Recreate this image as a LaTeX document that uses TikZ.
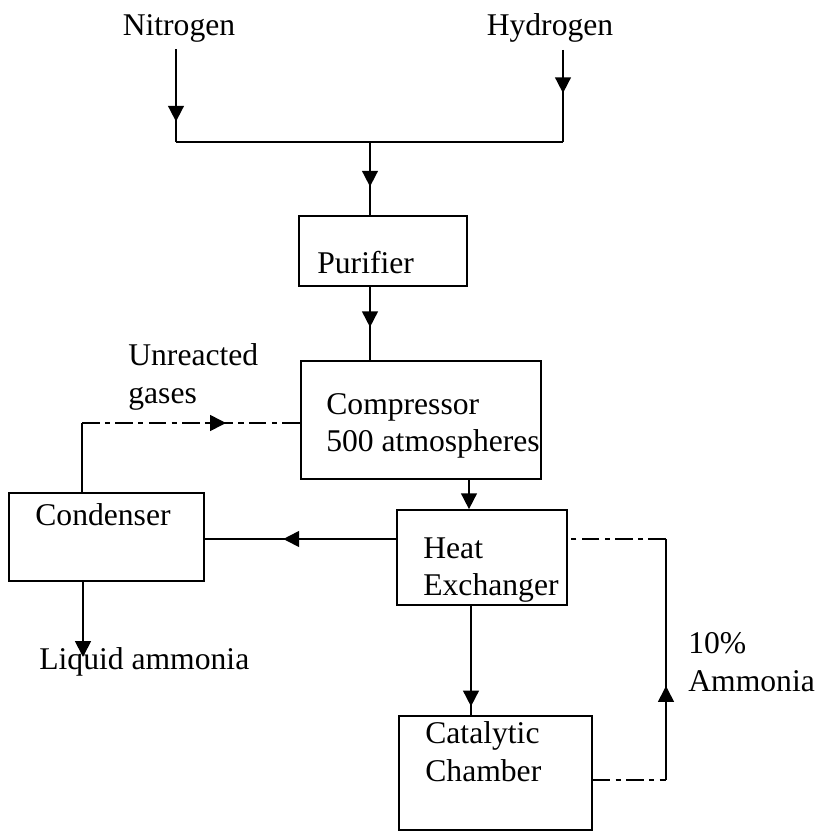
\documentclass[tikz,border=0pt]{standalone}
\usepackage{fontspec}
\setmainfont{Liberation Serif}
\usetikzlibrary{arrows.meta,decorations.markings}
\tikzset{
    unitbox/.style={draw,line width=1pt,inner sep=0pt},
    boxlabel/.style={anchor=west,align=left,inner sep=0pt,font=\fontsize{18}{21.5}\selectfont},
    streamlabel/.style={inner xsep=0pt,inner ysep=4pt,font=\fontsize{18}{21.5}\selectfont},
    flowline/.style={line width=1pt},
    flowdashed/.style={line width=1pt,dash pattern=on 10pt off 3pt on 3pt off 3pt},
    flowarrow/.style={line width=1pt,-{Triangle[length=9pt,width=9pt]}},
    midarrow/.style={decoration={markings,mark=at position #1 with {\arrow{Triangle[length=9pt,width=9pt]}}},postaction={decorate}}
}

\begin{document}
\begin{tikzpicture}[x=0.02cm,y=-0.02cm]

    \useasboundingbox (0,0) rectangle (818,833);

    % feed gases
    \node[streamlabel] (nitrogen) at (179,28) {Nitrogen};
    \node[streamlabel] (hydrogen) at (550,28) {Hydrogen};

    % plant units (boxes)
    \node[unitbox,minimum width=3.36cm,minimum height=1.40cm] (purifier) at (383,251) {};
    \node[unitbox,minimum width=4.80cm,minimum height=2.36cm] (compressor) at (421,420) {};
    \node[unitbox,minimum width=3.90cm,minimum height=1.76cm] (condenser) at (106.5,537) {};
    \node[unitbox,minimum width=3.40cm,minimum height=1.90cm] (heatex) at (482,557.5) {};
    \node[unitbox,minimum width=3.86cm,minimum height=2.28cm] (catalytic) at (495.5,773) {};

    % texts inside the units
    \node[boxlabel] (purifiertext) at (317,263) {Purifier};
    \node[boxlabel] (compressortext) at (326,426) {Compressor\\500 atmospheres};
    \node[boxlabel] (condensertext) at (35,515) {Condenser};
    \node[boxlabel] (heatextext) at (423,570) {Heat\\Exchanger};
    \node[boxlabel] (catalytictext) at (425,752) {Catalytic\\Chamber};

    % stream labels
    \node[boxlabel] (unreacted) at (128,377) {Unreacted\\gases};
    \node[boxlabel] (tenpct) at (688,662) {10\%\\Ammonia};
    \node[boxlabel] (liquid) at (39,662) {Liquid ammonia};

    % helper points for the pipes
    \coordinate (jN) at (176,142);
    \coordinate (jH) at (563,142);
    \coordinate (jM) at (370,142);
    \coordinate (vC) at (469,495);
    \coordinate (vH) at (471,660);
    \coordinate (hC) at (300,539);
    \coordinate (ug) at (82,423);
    \coordinate (rt) at (666,539);
    \coordinate (rb) at (666,780);
    \coordinate (la) at (83,657);

    % nitrogen + hydrogen to purifier
    \draw[flowline,midarrow=0.78] (nitrogen.south -| jN) -- (jN);
    \draw[flowline,midarrow=0.47] (hydrogen.south -| jH) -- (jH);
    \draw[flowline] (jN) -- (jH);
    \draw[flowline,midarrow=0.61] (jM) -- (jM |- purifier.north);

    % purifier -> compressor -> heat exchanger -> catalytic chamber
    \draw[flowline,midarrow=0.55] (jM |- purifier.south) -- (jM |- compressor.north);
    \draw[flowarrow] (vC |- compressor.south) -- (vC |- heatex.north);
    \draw[flowline,midarrow=0.92] (vH |- heatex.south) -- (vH |- catalytic.north);

    % heat exchanger -> condenser
    \draw[flowline,midarrow=0.59] (heatex.west |- hC) -- (condenser.east |- hC);

    % unreacted gases back to compressor
    \draw[flowline] (condenser.north -| ug) -- (ug);
    \draw[flowdashed,midarrow=0.66] (ug) -- (ug -| compressor.west);

    % 10% ammonia from catalytic chamber back to heat exchanger
    \draw[flowdashed] (catalytic.east |- rb) -- (rb);
    \draw[flowline,midarrow=0.39] (rb) -- (rt);
    \draw[flowdashed] (rt) -- (heatex.east |- rt);

    % liquid ammonia out
    \draw[flowarrow] (condenser.south -| la) -- (la);

\end{tikzpicture}
\end{document}
